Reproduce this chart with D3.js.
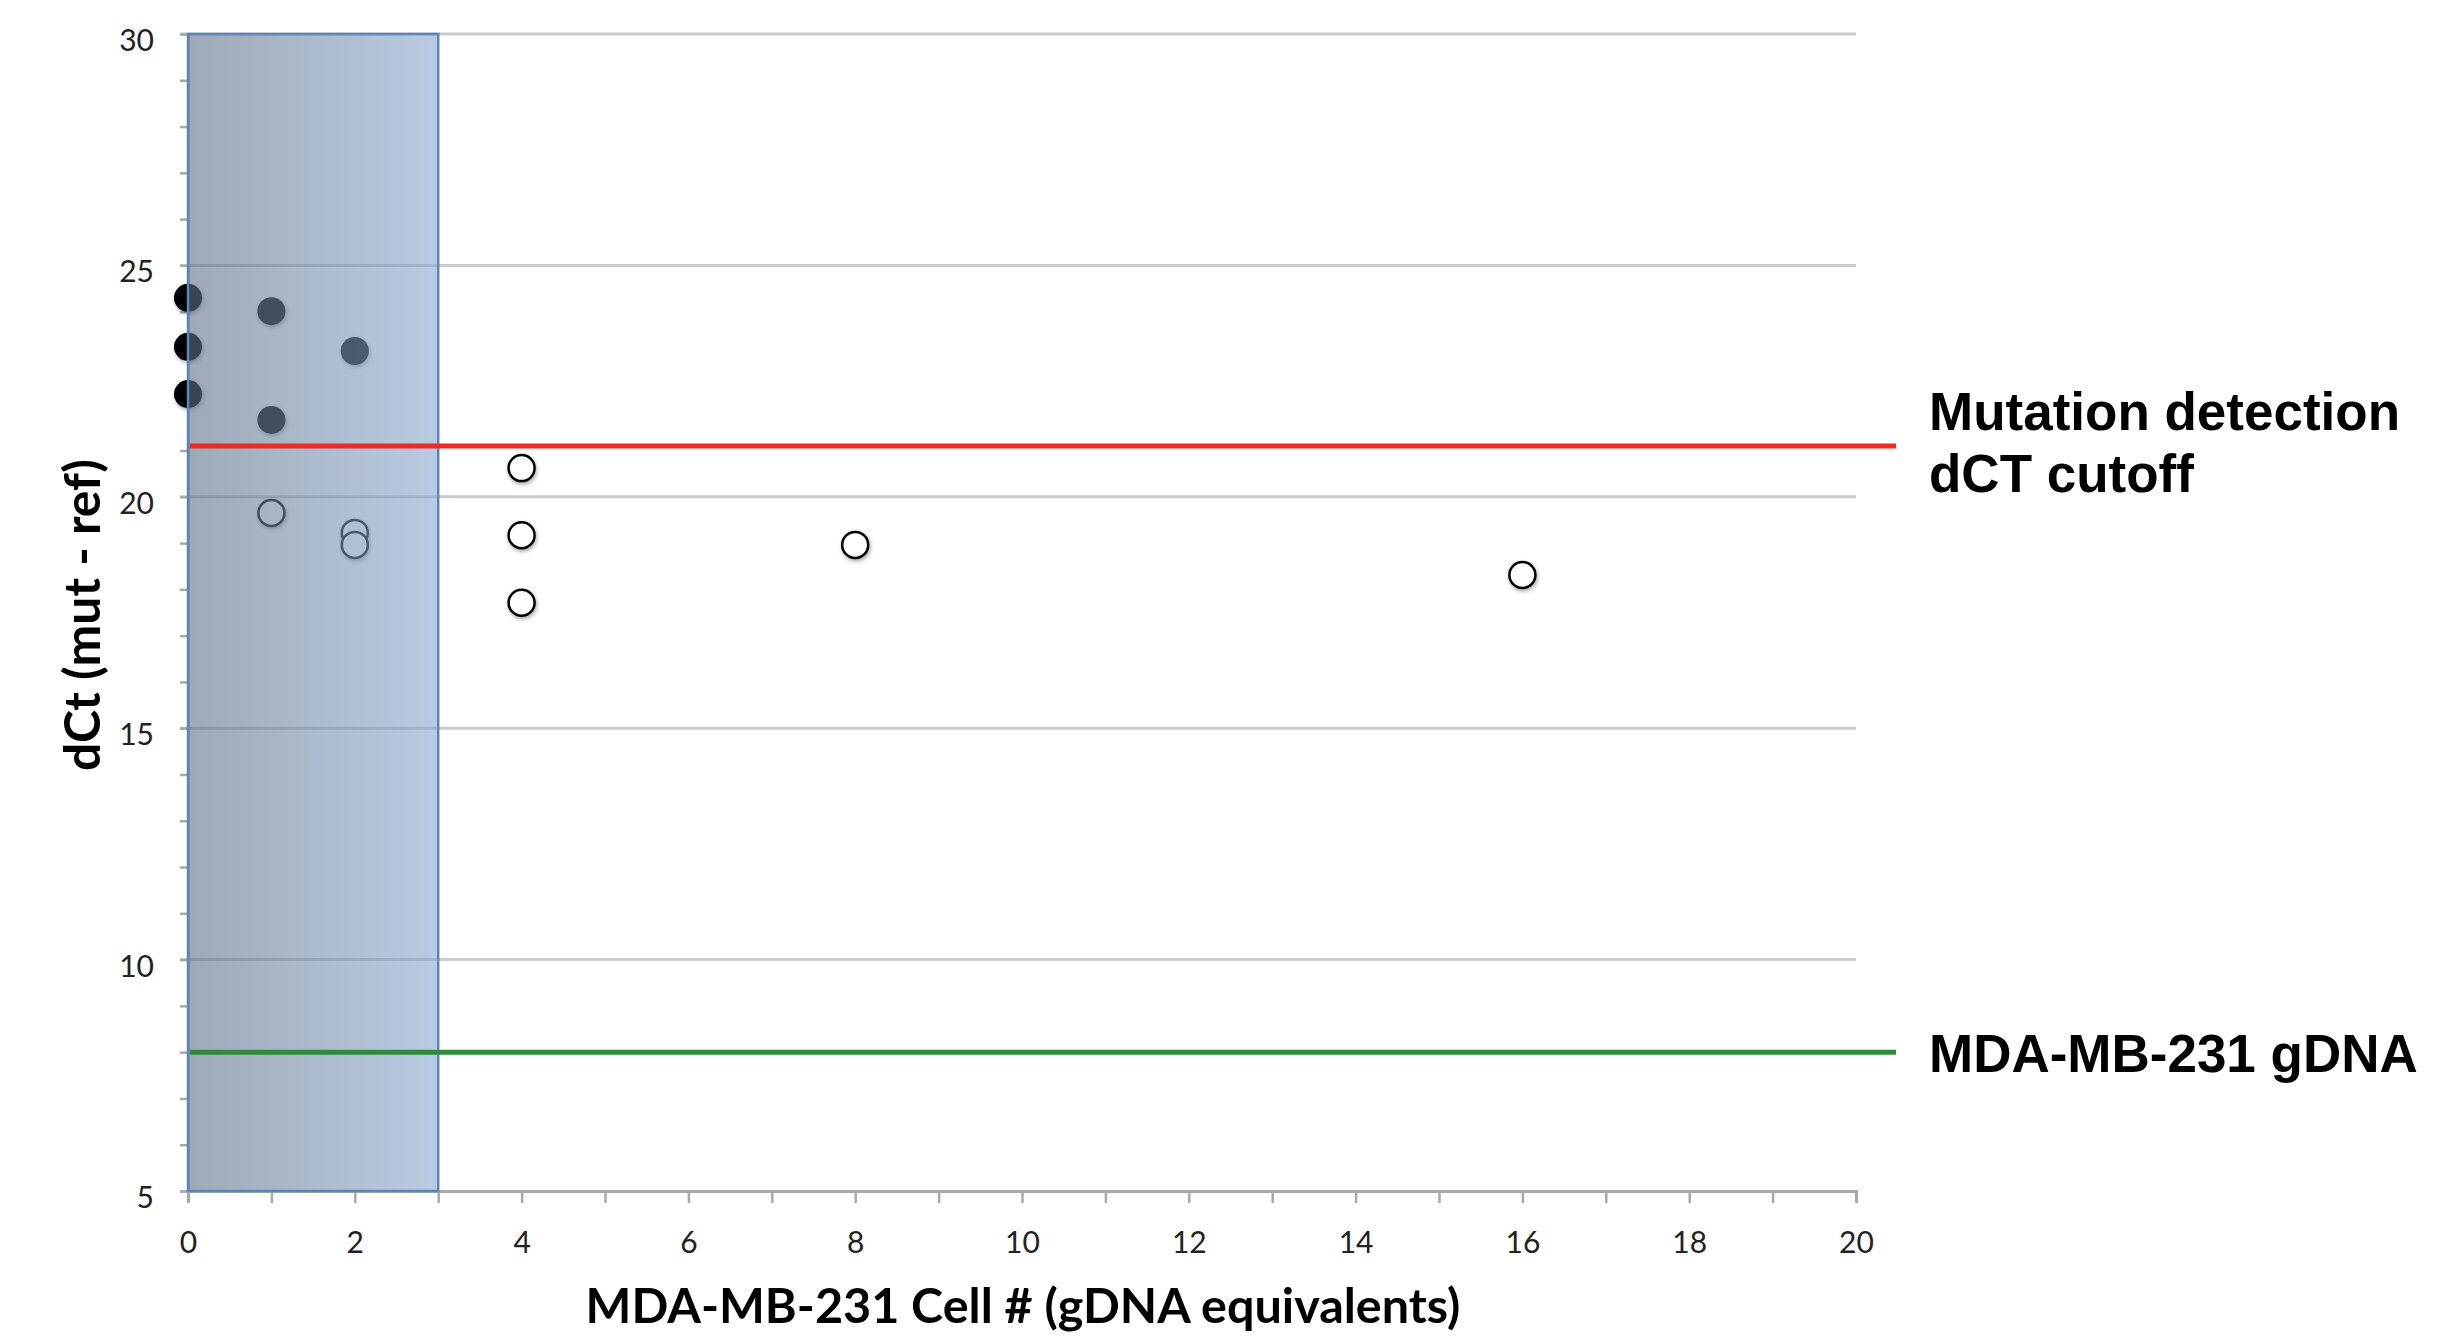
<!DOCTYPE html>
<html>
<head>
<meta charset="utf-8">
<script src="https://cdn.jsdelivr.net/npm/d3@7"></script>
<style>
  html, body { margin: 0; padding: 0; background: #fff; }
  svg { display: block; }
</style>
</head>
<body>
<svg id="chart" width="2441" height="1337"></svg>
<script>
// ---- data ----
const filledX = [0, 0, 0, 1, 1, 2];
const filledY = [24.30, 23.24, 22.22, 24.01, 21.66, 23.15];
const openX = [1, 2, 2, 4, 4, 4, 8, 16];
const openY = [19.65, 19.22, 18.96, 20.62, 19.17, 17.71, 18.96, 18.31];
const cutoffValue = 21.1;
const gdnaValue = 8.0;
const shadedRange = [0, 3];
const xDomain = [0, 20];
const yDomain = [5, 30];
const xTickLabels = [0, 2, 4, 6, 8, 10, 12, 14, 16, 18, 20];
const yTickLabels = [5, 10, 15, 20, 25, 30];
const cutoffLabel = ["Mutation detection", "dCT cutoff"];
const gdnaLabel = "MDA-MB-231 gDNA";
const xTitle = "MDA-MB-231 Cell # (gDNA equivalents)";
const yTitle = "dCt (mut - ref)";

// ---- layout ----
const svg = d3.select("#chart");
const L = 188, T = 34, W = 1668, H = 1157;
const x = d3.scaleLinear().domain(xDomain).range([L, L + W]);
const y = d3.scaleLinear().domain(yDomain).range([T + H, T]);

const defs = svg.append("defs");
const grad = defs.append("linearGradient").attr("id", "boxGrad")
  .attr("x1", "0%").attr("x2", "100%").attr("y1", "0%").attr("y2", "0%");
grad.append("stop").attr("offset", "0%").attr("stop-color", "rgb(95,112,135)");
grad.append("stop").attr("offset", "100%").attr("stop-color", "rgb(138,168,207)");
const sh = defs.append("filter").attr("id", "shadow")
  .attr("x", "-50%").attr("y", "-50%").attr("width", "200%").attr("height", "200%");
sh.append("feDropShadow").attr("dx", 1).attr("dy", 2).attr("stdDeviation", 2)
  .attr("flood-color", "#000").attr("flood-opacity", 0.35);

// gridlines
svg.append("g").selectAll("line").data(yTickLabels.filter(d => d > yDomain[0])).join("line")
  .attr("x1", x(0) - 8).attr("x2", x(20))
  .attr("y1", d => y(d)).attr("y2", d => y(d))
  .attr("stroke", "#cbcbcb").attr("stroke-width", 3);

// x axis
const xAxis = d3.axisBottom(x).tickValues(d3.range(0, 21, 1))
  .tickSize(12).tickFormat(d => xTickLabels.includes(d) ? d : "");
const gx = svg.append("g").attr("transform", `translate(0,${y(5)})`).call(xAxis);
gx.select(".domain").attr("stroke", "#a9a9a9").attr("stroke-width", 3);
gx.selectAll(".tick line").attr("stroke", "#a9a9a9").attr("stroke-width", 2.5);
gx.selectAll(".tick text").attr("font-family", "Lato, sans-serif").attr("font-size", 30)
  .attr("fill", "#222").attr("dy", "1.55em");

// y axis
const yAxis = d3.axisLeft(y).tickValues(d3.range(5, 31, 1))
  .tickSize(8).tickFormat(d => yTickLabels.includes(d) ? d : "");
const gy = svg.append("g").attr("transform", `translate(${x(0)},0)`).call(yAxis);
gy.select(".domain").attr("stroke", "#a9a9a9").attr("stroke-width", 2.5);
gy.selectAll(".tick line").attr("stroke", "#a9a9a9").attr("stroke-width", 2.5);
gy.selectAll(".tick text").attr("font-family", "Lato, sans-serif").attr("font-size", 30)
  .attr("fill", "#222").attr("x", -34).attr("dy", "0.55em");

// points (under the translucent box)
const pts = svg.append("g").attr("filter", "url(#shadow)");
pts.selectAll("circle.f").data(filledX.map((d, i) => [d, filledY[i]])).join("circle")
  .attr("class", "f").attr("cx", d => x(d[0])).attr("cy", d => y(d[1])).attr("r", 14)
  .attr("fill", "#000");
pts.selectAll("circle.o").data(openX.map((d, i) => [d, openY[i]])).join("circle")
  .attr("class", "o").attr("cx", d => x(d[0])).attr("cy", d => y(d[1])).attr("r", 13)
  .attr("fill", "#fff").attr("stroke", "#000").attr("stroke-width", 2.5);

// shaded box
svg.append("rect")
  .attr("x", x(shadedRange[0])).attr("y", y(30))
  .attr("width", x(shadedRange[1]) - x(shadedRange[0])).attr("height", y(5) - y(30))
  .attr("fill", "url(#boxGrad)").attr("fill-opacity", 0.6)
  .attr("stroke", "#5b86b9").attr("stroke-width", 2.5);

// reference lines
const lineEnd = 1896;
svg.append("line").attr("x1", x(0) + 2).attr("x2", lineEnd)
  .attr("y1", y(cutoffValue)).attr("y2", y(cutoffValue))
  .attr("stroke", "#ee2a24").attr("stroke-width", 5);
svg.append("line").attr("x1", x(0) + 2).attr("x2", lineEnd)
  .attr("y1", y(gdnaValue)).attr("y2", y(gdnaValue))
  .attr("stroke", "#2e8b3a").attr("stroke-width", 5);

// right labels
const labFont = "'Liberation Sans', Arial, sans-serif";
const t1 = svg.append("text").attr("x", 1929).attr("y", 430)
  .attr("font-family", labFont).attr("font-weight", "bold").attr("font-size", 53).attr("fill", "#000");
t1.selectAll("tspan").data(cutoffLabel).join("tspan")
  .attr("x", 1929).attr("dy", (d, i) => i === 0 ? 0 : 62).text(d => d);
svg.append("text").attr("x", 1929).attr("y", 1072)
  .attr("font-family", labFont).attr("font-weight", "bold").attr("font-size", 53).attr("fill", "#000")
  .text(gdnaLabel);

// axis titles
const xt = svg.append("text").attr("x", 1023).attr("y", 1323).attr("text-anchor", "middle")
  .attr("font-family", "Lato, sans-serif").attr("font-weight", "bold").attr("font-size", 44)
  .attr("fill", "#000").text(xTitle);
const xw = xt.node().getComputedTextLength();
xt.attr("font-size", 44 * 875 / xw);

const yt = svg.append("text").attr("transform", `translate(100,615) rotate(-90)`)
  .attr("text-anchor", "middle")
  .attr("font-family", "Lato, sans-serif").attr("font-weight", "bold").attr("font-size", 44)
  .attr("fill", "#000").text(yTitle);
const yw = yt.node().getComputedTextLength();
yt.attr("font-size", 44 * 312 / yw);
</script>
</body>
</html>
